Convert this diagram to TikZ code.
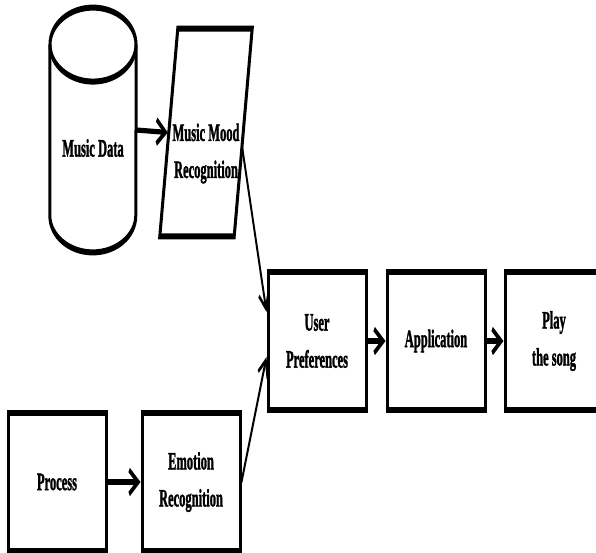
\documentclass[tikz,border=0pt]{standalone}
\usepackage{fontspec}
\setmainfont{Liberation Serif}[BoldFeatures={FakeBold=2}]
\usetikzlibrary{shapes.geometric, arrows.meta, positioning, calc}

\tikzset{
  block/.style={draw, rectangle, line width=3pt, minimum width=98pt, minimum height=69pt, align=center},
  flow/.style={-{Straight Barb[length=9pt, width=12pt]}, line width=2.6pt},
  feed/.style={-{Straight Barb[length=8pt, width=10pt]}, line width=1.9pt}
}

\begin{document}
\begin{tikzpicture}
  \useasboundingbox (0,0) rectangle (298pt,-276.5pt);
  % squeezed sideways: one x unit is half a y unit after the canvas scaling
  \begin{scope}[transform canvas={xscale=0.5}, x=1pt, y=-0.5pt, node distance=18pt,
                font=\bfseries\fontsize{12.5}{18.5}\selectfont]
    % data store
    \node (data) [minimum width=86pt, minimum height=122pt, inner sep=0pt,
                  label={[yshift=-9pt]center:Music Data}] at (93,130) {};
    \draw [line width=3pt] ($(data.north)+(0,37)$) ellipse [x radius=43pt, y radius=18.5pt];
    \draw [line width=3pt] ($(data.north west)+(0,37)$) -- ($(data.south west)+(0,-37)$)
          arc [start angle=180, end angle=360, x radius=43pt, y radius=18.5pt]
          -- ($(data.north east)+(0,37)$);

    % slanted input box
    \node (mood) [minimum width=92pt, minimum height=103.5pt, inner sep=0pt,
                  label={[yshift=-10.5pt, align=center]center:Music Mood\\Recognition}] at (206,132.5) {};
    \draw [line width=3pt] ($(mood.north west)+(18,0)$) -- (mood.north east)
          -- ($(mood.south east)+(-18,0)$) -- (mood.south west) -- cycle;

    % main chain
    \node (pref) [block] at (317,341) {User\\Preferences};
    \node (app) [block, right=of pref] {Application};
    \node (play) [block, right=17pt of app] {Play\\the song};

    % camera side
    \node (proc) [block] at (57,482) {Process};
    \node (emo) [block, right=33pt of proc] {Emotion\\Recognition};

    \draw [flow] (data.east) -- ($(mood.west)+(8,0)$);
    \draw [flow] (pref) -- (app);
    \draw [flow] (app) -- (play);
    \draw [flow] (proc) -- (emo);
    \draw [feed] ($(mood.east)+(-10,15)$) -- (pref.164);
    \draw [feed] (emo.east) -- (pref.189);
  \end{scope}
\end{tikzpicture}
\end{document}
